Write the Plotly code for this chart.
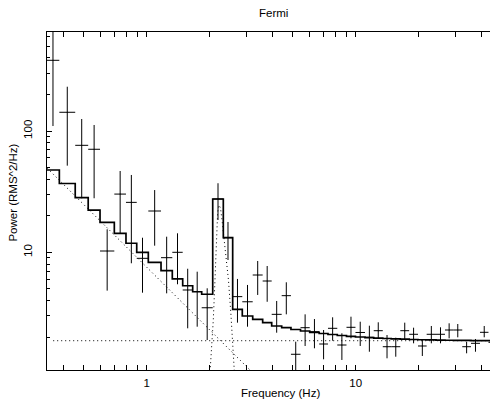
import math
import plotly.graph_objects as go

# ---- data ----
bin_edges = [0.332, 0.382, 0.455, 0.525, 0.598, 0.700, 0.796, 0.896, 1.018, 1.171,
             1.326, 1.487, 1.660, 1.833, 2.070, 2.326, 2.579, 2.867, 3.216, 3.589,
             3.964, 4.425, 4.901, 5.445, 6.026, 6.690, 7.371, 8.166, 9.037, 9.977,
             11.08, 12.20, 13.48, 14.80, 16.35, 18.03, 19.87, 21.86, 24.23, 26.75,
             29.31, 32.36, 35.62, 39.33, 43.19, 47.80]

power = [382.7, 142.7, 76.2, 70.7, 10.25, 30.2, 25.8, 8.92, 21.9, 9.03,
         10.0, 4.89, 4.75, 3.49, 27.5, 13.19, 4.31, 3.91, 6.50, 5.80,
         3.08, 4.39, 1.443, 2.39, 2.215, 1.754, 2.363, 1.721, 2.408, 2.183,
         1.992, 2.258, 1.666, 1.666, 2.258, 2.109, 1.689, 2.109, 2.109, 2.288,
         2.288, 1.666, 1.777, 2.190, 1.811]

power_upper = [900, 231.8, 125.6, 112.1, 15.48, 46.8, 43.4, 13.19, 32.6, 13.45,
               14.34, 7.32, 6.92, 5.05, 37.1, 17.78, 6.03, 5.38, 8.48, 7.71,
               3.97, 5.66, 1.832, 3.08, 2.818, 2.288, 2.912, 2.149, 2.945, 2.678,
               2.483, 2.648, 2.081, 1.977, 2.63, 2.39, 1.918, 2.469, 2.408, 2.598,
               2.564, 1.832, 1.929, 2.469, 1.954]

power_lower = [109.9, 51.8, 27.9, 27.9, 4.83, 14.34, 8.12, 4.645, 11.34, 4.59,
               5.45, 2.363, 2.436, 1.892, 18.47, 8.64, 2.63, 2.436, 4.45, 3.91,
               2.174, 3.08, 1.0, 1.689, 1.617, 1.312, 1.867, 1.295, 1.954, 1.689,
               1.515, 1.929, 1.337, 1.378, 1.918, 1.777, 1.397, 1.777, 1.777, 1.954,
               1.992, 1.470, 1.515, 1.992, 1.666]

model = [47.7, 36.9, 28.2, 22.3, 17.68, 14.34, 11.87, 10.0, 8.27, 7.05,
         6.03, 5.30, 4.73, 4.51, 27.5, 13.19, 3.39, 2.985, 2.804, 2.63,
         2.469, 2.39, 2.31, 2.245, 2.19, 2.141, 2.101, 2.062, 2.03, 2.003,
         1.980, 1.962, 1.947, 1.932, 1.921, 1.910, 1.901, 1.896, 1.888, 1.884,
         1.880, 1.877, 1.873, 1.870, 1.870]

const_freq = [0.357, 50.0]
const_power = [1.867, 1.867]

pl_freq = [0.3345, 3.5]
pl_power = [49.3, 0.88]

qpo_freq = [2.00, 2.083, 2.122, 2.162, 2.186, 2.218, 2.255, 2.293, 2.344, 2.396,
            2.462, 2.531, 2.64]
qpo_power = [0.9, 2.766, 5.91, 15.27, 21.5, 24.5, 23.2, 18.5, 13.12, 9.1,
             5.91, 3.04, 0.9]

x_range = [-0.477, 1.681]
y_range = [0.0297, 2.8162]

# ---- derived quantities ----
f_lo = bin_edges[:-1]
f_hi = bin_edges[1:]
f_c = [math.sqrt(a * b) for a, b in zip(f_lo, f_hi)]
ex_plus = [b - c for b, c in zip(f_hi, f_c)]
ex_minus = [c - a for a, c in zip(f_lo, f_c)]
ey_plus = [u - p for u, p in zip(power_upper, power)]
ey_minus = [p - l for p, l in zip(power, power_lower)]

FONT = "Liberation Sans"

fig = go.Figure()

dotted = dict(color="black", width=1, dash="1px,3px")
fig.add_trace(go.Scatter(x=pl_freq, y=pl_power, mode="lines", line=dotted,
                         hoverinfo="skip", showlegend=False))
fig.add_trace(go.Scatter(x=qpo_freq, y=qpo_power, mode="lines", line=dotted,
                         hoverinfo="skip", showlegend=False))

fig.add_trace(go.Scatter(
    x=bin_edges, y=model + [model[-1]], mode="lines", line_shape="hv",
    line=dict(color="black", width=1.7), showlegend=False))

fig.add_trace(go.Scatter(
    x=f_c, y=power, mode="markers", marker=dict(size=1, color="black"),
    error_x=dict(type="data", symmetric=False, array=ex_plus, arrayminus=ex_minus,
                 color="black", thickness=1, width=0),
    error_y=dict(type="data", symmetric=False, array=ey_plus, arrayminus=ey_minus,
                 color="black", thickness=1, width=0),
    showlegend=False))

fig.add_trace(go.Scatter(x=const_freq, y=const_power, mode="lines", line=dotted,
                         yaxis="y2", hoverinfo="skip", showlegend=False))

axis_common = dict(
    type="log", showgrid=False, zeroline=False,
    showline=True, linecolor="black", linewidth=1,
    ticks="inside", ticklen=5, tickwidth=1, tickcolor="black",
    dtick=1,
    minor=dict(ticks="inside", ticklen=2.5, tickwidth=1, tickcolor="black", showgrid=False),
    tickfont=dict(family=FONT, size=11.5, color="black"),
)

# page body has an 8px default margin; the figure is sized to fill the rest
fig.update_layout(
    width=490, height=399,
    margin=dict(l=39, r=0, t=24, b=37),
    paper_bgcolor="white", plot_bgcolor="white",
    font=dict(family=FONT, size=11.5, color="black"),
    xaxis=dict(axis_common, range=x_range, mirror="allticks", ticklabelstandoff=2),
    yaxis=dict(axis_common, range=y_range, mirror=False, tickangle=-90,
               ticklabelstandoff=9),
    yaxis2=dict(type="log", range=y_range, overlaying="y", side="right",
                showline=False, showgrid=False, zeroline=False,
                ticks="inside", ticklen=2, tickwidth=1, tickcolor="black",
                tickvals=[10, 100], showticklabels=False),
    annotations=[
        dict(text="Fermi", xref="paper", yref="paper", x=0.5022, y=1.0562,
             xanchor="center", yanchor="middle", showarrow=False,
             font=dict(family=FONT, size=11.5, color="black")),
        dict(text="Frequency (Hz)", xref="paper", yref="paper", x=0.5188, y=-0.068,
             xanchor="center", yanchor="middle", showarrow=False,
             font=dict(family=FONT, size=11.5, color="black")),
        dict(text="Power (RMS^2/Hz)", xref="paper", yref="paper", x=-0.0747, y=0.5257,
             xanchor="center", yanchor="middle", showarrow=False, textangle=-90,
             font=dict(family=FONT, size=11.5, color="black")),
    ],
)

fig.write_html("out.html")
